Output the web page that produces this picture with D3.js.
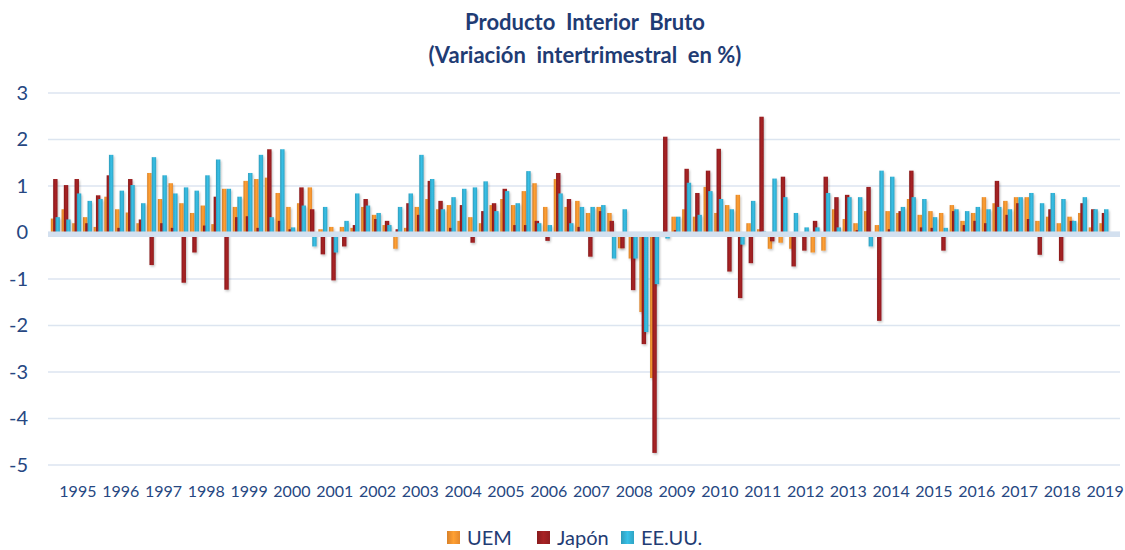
<!DOCTYPE html>
<html>
<head>
<meta charset="utf-8">
<title>Producto Interior Bruto</title>
<script src="https://d3js.org/d3.v7.min.js"></script>
<style>
  body { margin: 0; background: #fff; }
  text { font-family: Lato, "Open Sans", sans-serif; }
</style>
</head>
<body>
<div id="canvas"></div>
<script>
  // years and quarters (last quarter of 2019 still empty)
  var years = d3.range(1995, 2020).map(String);
  var quarters = ["T1", "T2", "T3", "T4"];
  var yTicks = [-5, -4, -3, -2, -1, 0, 1, 2, 3];
  var seriesNames = ["UEM", "Japón", "EE.UU."];

  // quarter-on-quarter change, %
  var uem = [
    0.3, 0.5, 0.2, 0.33,   0.12, 0.77, 0.5, 0.43,   0.2, 1.28, 0.72, 1.06,
    0.63, 0.42, 0.58, 0.18,   0.94, 0.55, 1.11, 1.15,   1.18, 0.85, 0.55, 0.63,
    0.97, 0.07, 0.12, 0.12,   0.1, 0.55, 0.38, 0.16,   -0.35, 0.1, 0.55, 0.72,
    0.5, 0.59, 0.25, 0.33,   0.2, 0.59, 0.72, 0.59,   0.89, 1.06, 0.55, 1.15,
    0.55, 0.68, 0.42, 0.55,   0.42, -0.34, -0.56, -1.71,   -3.13, -0.05, 0.34, 0.5,
    0.34, 0.98, 0.42, 0.59,   0.81, 0.2, 0.07, -0.35,   -0.22, -0.35, -0.05, -0.43,
    -0.39, 0.5, 0.29, 0.2,   0.46, 0.16, 0.46, 0.42,   0.72, 0.38, 0.46, 0.42,
    0.59, 0.25, 0.42, 0.76,   0.63, 0.68, 0.76, 0.76,   0.25, 0.34, 0.2, 0.34,
    0.42, 0.11, 0.2
  ];
  var japon = [
    1.15, 1.02, 1.15, 0.2,   0.8, 1.23, 0.1, 1.15,   0.28, -0.7, 0.2, 0.1,
    -1.08, -0.43, 0.15, 0.77,   -1.23, 0.33, 0.35, 0.1,   1.79, 0.25, 0.07, 0.97,
    0.5, -0.47, -1.03, -0.3,   0.16, 0.72, 0.29, 0.25,   0.07, 0.63, 0.38, 1.11,
    0.68, 0.1, 0.59, -0.22,   0.46, 0.63, 0.94, 0.16,   0.16, 0.25, -0.18, 1.28,
    0.72, 0.12, -0.52, 0.46,   0.25, -0.34, -1.24, -2.4,   -4.74, 2.06, 0.05, 1.37,
    0.85, 1.33, 1.8, -0.84,   -1.41, -0.66, 2.49, -0.19,   1.2, -0.73, -0.39, 0.25,
    1.2, 0.76, 0.81, 0.05,   0.98, -1.9, 0.07, 0.46,   1.33, 0.11, 0.1, -0.39,
    0.46, 0.16, 0.25, 0.2,   1.11, 0.38, 0.63, 0.29,   -0.48, 0.5, -0.61, 0.25,
    0.63, 0.5, 0.42
  ];
  var eeuu = [
    0.33, 0.28, 0.84, 0.68,   0.72, 1.67, 0.9, 1.02,   0.63, 1.62, 1.23, 0.84,
    0.97, 0.9, 1.23, 1.57,   0.94, 0.77, 1.28, 1.67,   0.33, 1.79, 0.11, 0.58,
    -0.3, 0.55, -0.43, 0.25,   0.84, 0.58, 0.42, 0.16,   0.55, 0.84, 1.67, 1.15,
    0.5, 0.76, 0.94, 0.97,   1.1, 0.46, 0.89, 0.63,   1.32, 0.2, 0.16, 0.84,
    0.2, 0.55, 0.55, 0.59,   -0.56, 0.5, -0.56, -2.14,   -1.11, -0.13, 0.34, 1.07,
    0.38, 0.89, 0.72, 0.5,   -0.26, 0.68, 0.02, 1.16,   0.76, 0.42, 0.11, 0.11,
    0.85, 0.11, 0.76, 0.76,   -0.3, 1.33, 1.2, 0.55,   0.76, 0.72, 0.33, 0.1,
    0.5, 0.46, 0.55, 0.5,   0.55, 0.5, 0.76, 0.85,   0.63, 0.85, 0.72, 0.25,
    0.76, 0.5, 0.5
  ];

  var colors = ["#F5922F", "#9A1F21", "#33B0D3"];

  var W = 1125, H = 550;
  var svg = d3.select("#canvas").append("svg")
    .attr("width", W).attr("height", H);

  // category per quarter
  var cats = [];
  years.forEach(function(y) { quarters.forEach(function(q) { cats.push(y + "-" + q); }); });

  var x = d3.scaleBand().domain(cats).range([50, 1120]);
  var xYear = d3.scaleBand().domain(years).range([50, 1120]);
  var y = d3.scaleLinear().domain([-5, 3]).range([465, 93]);

  var defs = svg.append("defs");
  colors.forEach(function(c, i) {
    var g = defs.append("linearGradient").attr("id", "grad" + i)
      .attr("x1", "0%").attr("x2", "100%").attr("y1", "0%").attr("y2", "0%");
    g.append("stop").attr("offset", "0%").attr("stop-color", d3.color(c).darker(0.35));
    g.append("stop").attr("offset", "50%").attr("stop-color", d3.color(c).brighter(0.25));
    g.append("stop").attr("offset", "100%").attr("stop-color", d3.color(c).darker(0.2));
  });
  var f = defs.append("filter").attr("id", "shadow")
    .attr("x", "-50%").attr("y", "-10%").attr("width", "200%").attr("height", "120%");
  f.append("feDropShadow").attr("dx", 1).attr("dy", 1.5)
    .attr("stdDeviation", 1).attr("flood-color", "#000").attr("flood-opacity", 0.25);

  // gridlines
  svg.append("g")
    .selectAll("line")
    .data(yTicks)
    .enter().append("line")
      .attr("x1", 48).attr("x2", 1120)
      .attr("y1", function(d) { return y(d); })
      .attr("y2", function(d) { return y(d); })
      .attr("stroke", "#DCE5F0")
      .attr("stroke-width", 1.5);

  // y labels (plain hyphen for negatives, like the original)
  var yAxis = svg.append("g")
    .attr("transform", "translate(28,0)")
    .call(d3.axisLeft(y).tickValues(yTicks).tickSize(0).tickPadding(0)
      .tickFormat(function(d) { return String(d); }));
  yAxis.select(".domain").remove();
  yAxis.selectAll("text")
    .attr("fill", "#264782")
    .style("font-size", "20px")
    .style("font-family", "Lato, sans-serif");

  // bars
  var bw = 4.4, step = 2.3;
  var allSeries = [uem, japon, eeuu];
  allSeries.forEach(function(vals, si) {
    svg.append("g")
      .attr("filter", "url(#shadow)")
      .selectAll("rect")
      .data(vals)
      .enter().append("rect")
        .attr("x", function(d, i) { return x(cats[i]) + x.bandwidth() / 2 + (si - 1) * step - bw / 2; })
        .attr("y", function(d) { return y(Math.max(0, d)); })
        .attr("width", bw)
        .attr("height", function(d) { return Math.abs(y(d) - y(0)); })
        .attr("fill", "url(#grad" + si + ")");
  });

  // floor band on the zero line
  svg.append("rect")
    .attr("x", 48).attr("width", 1120 - 48)
    .attr("y", y(0) - 1).attr("height", 5.5)
    .attr("fill", "#D3E0EF");

  // year labels
  var xAxis = svg.append("g")
    .attr("transform", "translate(6.5,480)")
    .call(d3.axisBottom(xYear).tickSize(0).tickPadding(6));
  xAxis.select(".domain").remove();
  xAxis.selectAll("text")
    .attr("fill", "#264782")
    .style("font-size", "16px")
    .style("font-family", "Lato, sans-serif");

  // title
  svg.append("text")
    .text("Producto  Interior  Bruto")
      .attr("x", 585).attr("y", 30)
      .attr("text-anchor", "middle")
      .attr("fill", "#1F3C74")
      .style("white-space", "pre")
      .style("font-size", "22px").style("font-weight", "bold");
  svg.append("text")
    .text("(Variación  intertrimestral  en %)")
      .attr("x", 585).attr("y", 63)
      .attr("text-anchor", "middle")
      .attr("fill", "#1F3C74")
      .style("white-space", "pre")
      .style("font-size", "22px").style("font-weight", "bold");

  // legend
  var legX = [447, 537, 621];
  var leg = svg.append("g");
  seriesNames.forEach(function(name, i) {
    leg.append("rect")
      .attr("x", legX[i]).attr("y", 531)
      .attr("width", 13).attr("height", 13)
      .attr("fill", "url(#grad" + i + ")");
    leg.append("text")
      .text(name)
        .attr("x", legX[i] + 20).attr("y", 545)
        .attr("fill", "#1F3C74")
        .style("font-size", "20px");
  });
</script>
</body>
</html>
